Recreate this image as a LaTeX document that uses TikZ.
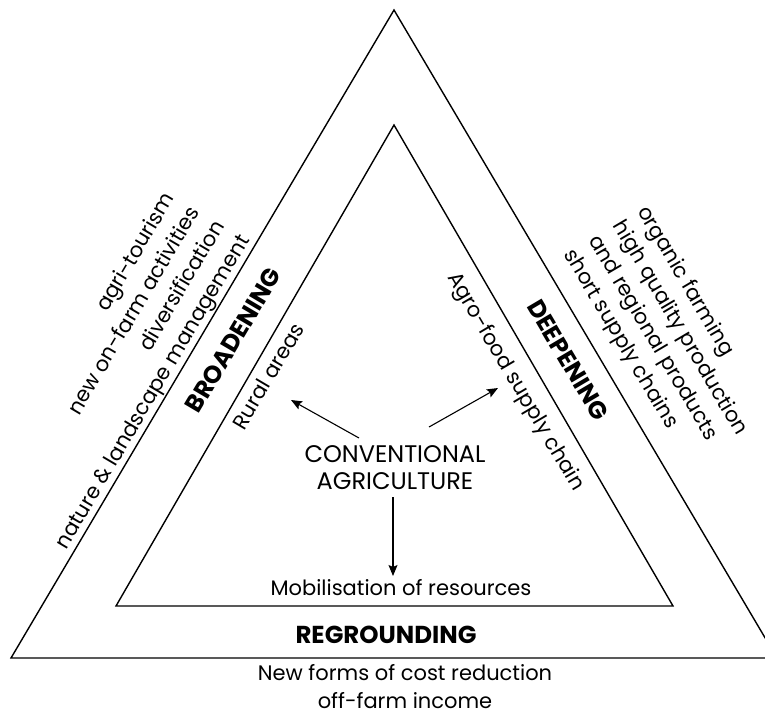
\documentclass[tikz,border=0pt]{standalone}
\usepackage{fontspec}
\setmainfont{Poppins}
\usetikzlibrary{arrows.meta}
\begin{document}
\begin{tikzpicture}[x=1pt,y=-1pt,
  edge/.style={line width=1.4pt, line join=miter},
  lbl/.style={font=\fontsize{21}{28}\selectfont, inner sep=0pt},
  caps/.style={font=\fontsize{24}{27}\selectfont, inner sep=0pt},
  bld/.style={font=\fontsize{24.5}{28}\selectfont\bfseries, inner sep=0pt},
  arr/.style={line width=1.1pt,-{Stealth[length=11pt,width=9pt,inset=2pt]}}]
\useasboundingbox (0,0) rectangle (765,718);
\clip (0,0) rectangle (765,718);
% triangles
\coordinate (OA) at (394,10);
\coordinate (OL) at (11,658);
\coordinate (OR) at (777,658);
\coordinate (IA) at (394,125);
\coordinate (IL) at (116,606);
\coordinate (IR) at (673,606);
\draw[edge] (OA) -- (OL) -- (OR) -- cycle;
\draw[edge] (IA) -- (IL) -- (IR) -- cycle;
% centre
\node[caps, align=center] (conv) at (395,468) {CONVENTIONAL\\AGRICULTURE};
\node[lbl] (mob) at (401,588) {Mobilisation of resources};
\node[lbl, rotate=59.4] (rural) at (268,376) {Rural areas};
\node[lbl, rotate=-59.4] (agro) at (515,382) {Agro-food supply chain};
% band labels
\node[bld, rotate=59.4] (broad) at (233,340) {BROADENING};
\node[bld, rotate=-59.4] (deep) at (568,360) {DEEPENING};
\node[bld] (regr) at (386,635) {REGROUNDING};
% outside texts left
\node[lbl, rotate=59.4, anchor=base east] (l1) at (175,198) {agri-tourism};
\node[lbl, rotate=59.4, anchor=base east] (l2) at (200,212) {new on-farm activities};
\node[lbl, rotate=59.4, anchor=base east] (l3) at (225,226) {diversification};
\node[lbl, rotate=59.4, anchor=base east] (l4) at (250,240) {nature \& landscape management};
% outside texts right
\node[lbl, rotate=-59.4, anchor=base west] (r1) at (637,211) {organic farming};
\node[lbl, rotate=-59.4, anchor=base west] (r2) at (612.5,225.5) {high quality production};
\node[lbl, rotate=-59.4, anchor=base west] (r3) at (588,240) {and regional products};
\node[lbl, rotate=-59.4, anchor=base west] (r4) at (563.5,254) {short supply chains};
% bottom
\node[lbl, align=center, font=\fontsize{21}{28}\selectfont] (bot) at (405,687) {New forms of cost reduction\\off-farm income};
% arrows
\coordinate (s1) at (359,438);
\coordinate (e1) at (291,400);
\coordinate (s2) at (429,427);
\coordinate (e2) at (498,388);
\coordinate (s3) at (393,497);
\coordinate (e3) at (393,576);
\draw[arr] (s1) -- (e1);
\draw[arr] (s2) -- (e2);
\draw[arr] (s3) -- (e3);
\end{tikzpicture}
\end{document}
